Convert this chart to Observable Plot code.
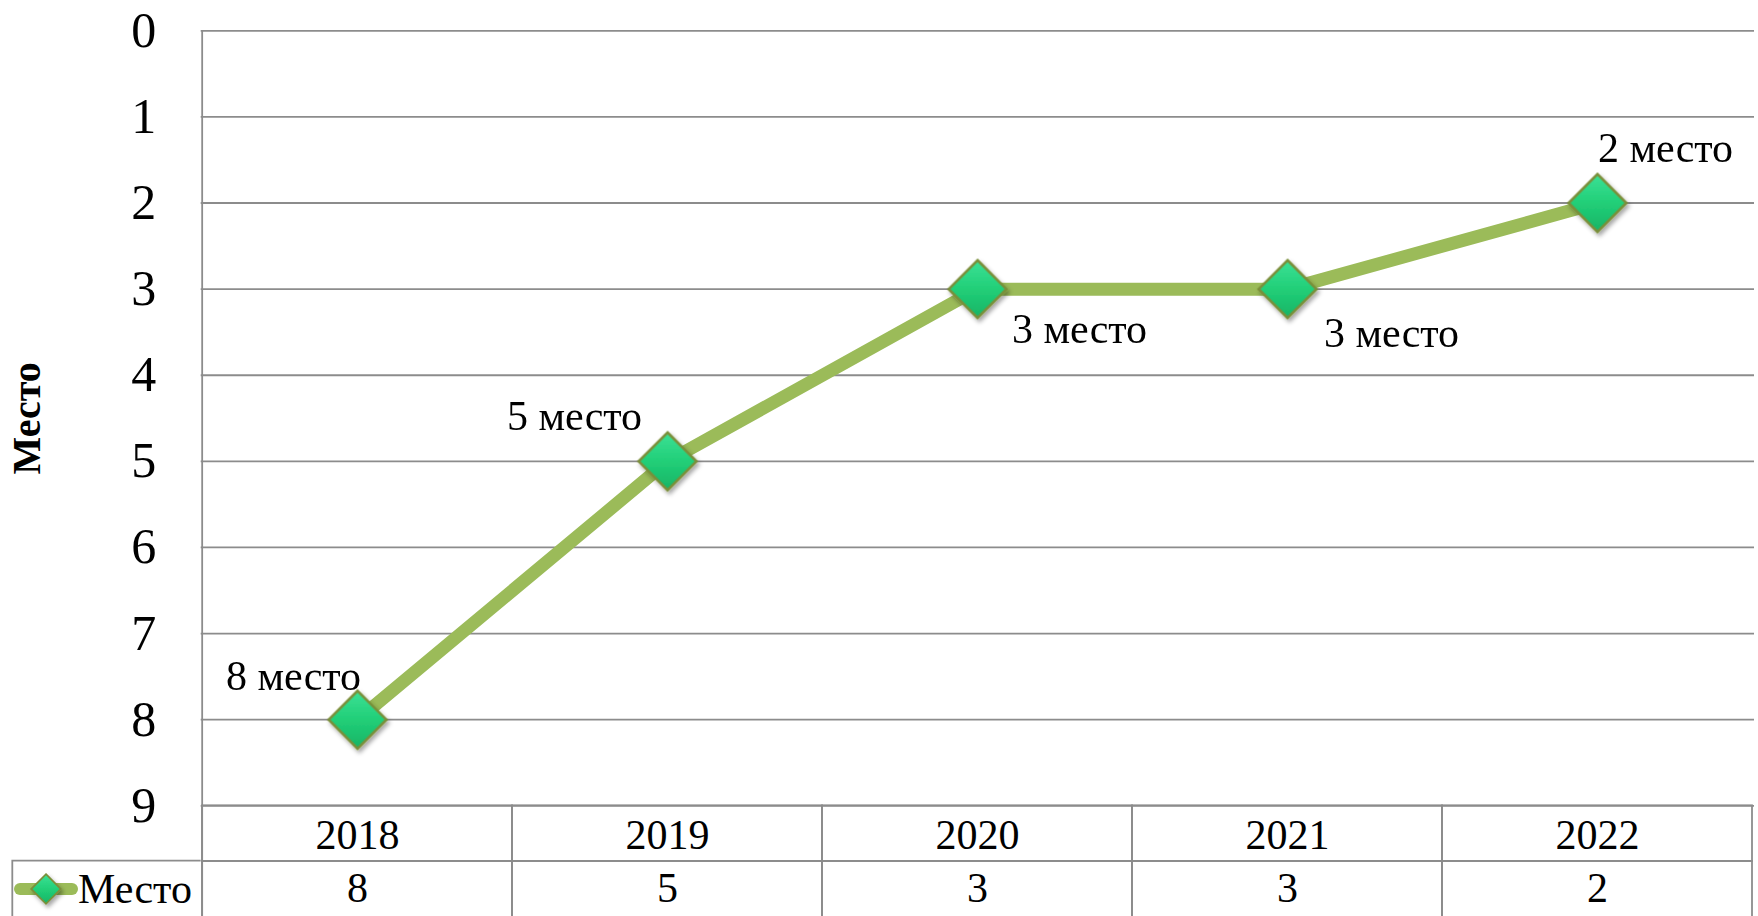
<!DOCTYPE html>
<html>
<head>
<meta charset="utf-8">
<script src="https://cdn.jsdelivr.net/npm/d3@7"></script>
<script src="https://cdn.jsdelivr.net/npm/@observablehq/plot@0.6"></script>
<style>
  html, body { margin: 0; padding: 0; background: #fff; }
  #chart { position: relative; width: 1758px; height: 916px; overflow: hidden; }
  svg { font-family: "Liberation Serif", "Times New Roman", serif; }
</style>
</head>
<body>
<div id="chart"></div>
<script>
// ---- data ----
const years = ["2018", "2019", "2020", "2021", "2022"];
const places = [8, 5, 3, 3, 2];
const yTicks = [0, 1, 2, 3, 4, 5, 6, 7, 8, 9];
const seriesName = "Место";
const axisTitle = "Место";
const labelSuffix = " место";

// ---- styles ----
const labelOffsets = [[-64, -43], [-93, -45], [102, 40], [104, 44], [68, -54]];
const W = 1758, H = 916;
const mL = 200.7, mR = 4, mT = 30.3, mB = 110.7;
const gridColor = "#8c8c8c";
const lineColor = "#9BBB59";
const font = "'Liberation Serif', 'Times New Roman', serif";

const data = years.map((year, i) => ({ year, place: places[i], i }));

const unit = (H - mT - mB) / 9;          // pixels per y unit
const tableTop = H - mB;                 // 805.3
const row1 = 9;
const row2 = 9 + 55.7 / unit;            // second table row line
const row3 = 9 + (H + 2 - tableTop) / unit; // bottom edge (just off canvas)
const valueMid = 9 + (888.5 - tableTop) / unit;
const bw = (W - mL - mR) / years.length;

const labelMarks = labelOffsets.map(([dx, dy], k) =>
  Plot.text(data.filter(d => d.i === k), {
    x: "year", y: "place", text: d => d.place + labelSuffix,
    dx, dy, fontSize: 42, fill: "#000", fontFamily: font
  })
);

const plot = Plot.plot({
  width: W, height: H,
  marginLeft: mL, marginRight: mR, marginTop: mT, marginBottom: mB,
  style: { fontFamily: font, background: "#fff", overflow: "visible" },
  x: { type: "band", domain: years, padding: 0 },
  y: { domain: [0, 9], reverse: true, clamp: false },
  marks: [
    Plot.gridY(yTicks, { stroke: gridColor, strokeOpacity: 1, strokeWidth: 1.8 }),
    // left axis line
    Plot.ruleX([years[0]], { y1: 0, y2: row3, dx: -bw / 2, stroke: gridColor, strokeWidth: 1.8 }),
    // table cells
    Plot.barY(data, { x: "year", y1: () => row1, y2: () => row2, fill: "none", stroke: gridColor, strokeWidth: 1.8, inset: 0 }),
    Plot.barY(data, { x: "year", y1: () => row2, y2: () => row3, fill: "none", stroke: gridColor, strokeWidth: 1.8, inset: 0 }),
    Plot.axisY({ ticks: yTicks, tickSize: 0, tickPadding: 45, fontSize: 50, label: null, tickFormat: d => String(d) }),
    Plot.axisX({ tickSize: 0, tickPadding: 13, fontSize: 42, label: null }),
    Plot.text(data, { x: "year", y: () => valueMid, text: d => String(d.place), fontSize: 42, fill: "#000" }),
    Plot.text([axisTitle], { frameAnchor: "left", dx: -174, rotate: -90, textAnchor: "middle", fontWeight: "bold", fontSize: 40, fill: "#000" }),
    Plot.line(data, { x: "year", y: "place", stroke: lineColor, strokeWidth: 13 }),
    Plot.dot(data, { x: "year", y: "place", symbol: "diamond2", r: 26, fill: "url(#gem)", stroke: "#7a8f3a", strokeWidth: 2.6 }),
    ...labelMarks
  ]
});

// gradient / shadow defs
const svg = d3.select(plot);
const defs = svg.insert("defs", ":first-child");
const lg = defs.append("linearGradient").attr("id", "gem").attr("x1", 0).attr("y1", 0).attr("x2", 0).attr("y2", 1);
lg.append("stop").attr("offset", "0%").attr("stop-color", "#3be196");
lg.append("stop").attr("offset", "50%").attr("stop-color", "#22cf78");
lg.append("stop").attr("offset", "100%").attr("stop-color", "#17b466");
const f = defs.append("filter").attr("id", "shadow").attr("x", "-30%").attr("y", "-30%").attr("width", "160%").attr("height", "160%");
f.append("feDropShadow").attr("dx", 2).attr("dy", 3).attr("stdDeviation", 2).attr("flood-color", "#000").attr("flood-opacity", 0.35);
svg.selectAll("g[fill='url(#gem)'], path[fill='url(#gem)']").attr("filter", "url(#shadow)");

// legend cell (series key of the data table)
const lgX = 12.3, lgY = 860.7, lgMid = 889;
const leg = svg.append("g");
leg.append("path").attr("d", `M${lgX},${H + 2}V${lgY}H${mL}`).attr("fill", "none").attr("stroke", gridColor).attr("stroke-width", 1.8);
leg.append("line").attr("x1", 20).attr("x2", 72).attr("y1", lgMid).attr("y2", lgMid)
  .attr("stroke", lineColor).attr("stroke-width", 12).attr("stroke-linecap", "round");
leg.append("path").attr("d", d3.symbol(d3.symbolDiamond2, 560)()).attr("transform", `translate(46,${lgMid})`)
  .attr("fill", "url(#gem)").attr("stroke", "#7a8f3a").attr("stroke-width", 1.8).attr("filter", "url(#shadow)");
leg.append("text").attr("x", 78).attr("y", lgMid).attr("dy", "0.33em").attr("text-anchor", "start")
  .attr("font-size", 42).attr("fill", "#000").text(seriesName);

document.getElementById("chart").appendChild(plot);
</script>
</body>
</html>
